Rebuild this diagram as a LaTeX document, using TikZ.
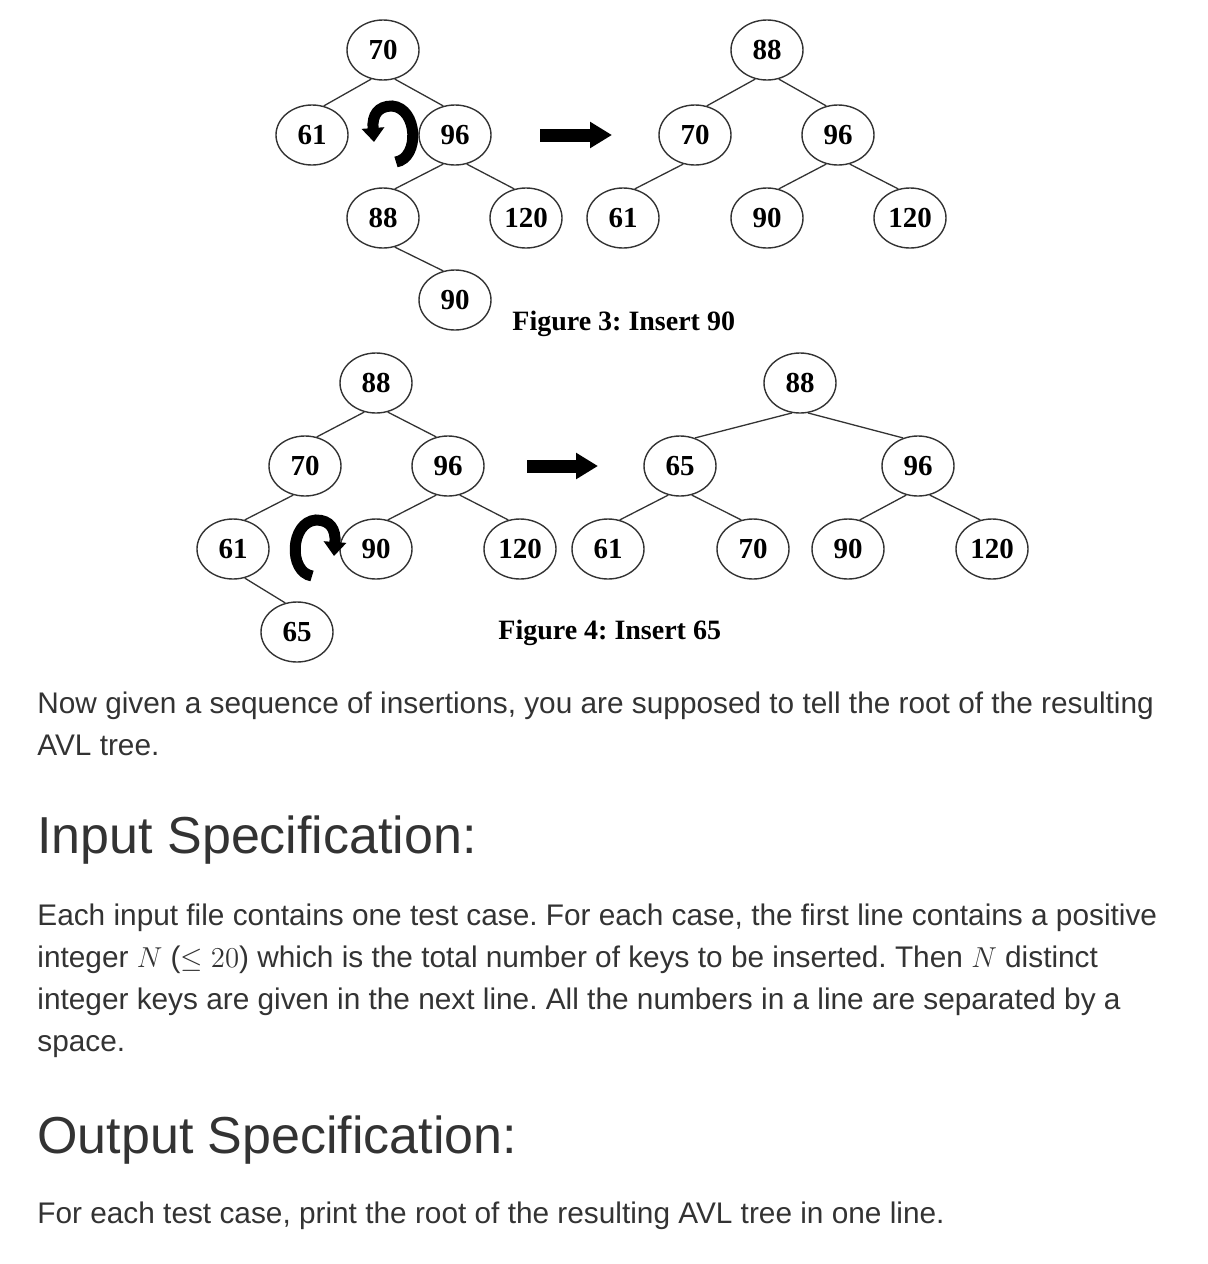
\documentclass[tikz,border=0pt]{standalone}
\usepackage{fontspec}
\setmainfont{Liberation Sans}
\newfontfamily\treefont{Liberation Serif}
\usetikzlibrary{shapes.geometric,arrows.meta}
\definecolor{bodytext}{HTML}{333333}
\frenchspacing
\begin{document}
\begin{tikzpicture}[x=0.5pt,y=0.5pt,
    key/.style={ellipse, draw=black!80, line width=0.7pt, minimum width=36pt, minimum height=30pt, inner sep=0pt, font=\treefont\bfseries\fontsize{14.5}{15}\selectfont},
    link/.style={line width=0.65pt, draw=black!80},
    turn/.style={line width=5.5pt, -{Triangle[length=7pt,width=11pt]}},
    bigarrow/.style={line width=6.5pt, -{Triangle[length=11pt,width=12.5pt]}},
    figcap/.style={anchor=base west, inner sep=0pt, font=\treefont\bfseries\fontsize{14}{14}\selectfont},
    para/.style={anchor=base west, inner sep=0pt, text=bodytext, font=\fontsize{14.9}{15}\selectfont},
    heading/.style={anchor=base west, inner sep=0pt, text=bodytext, font=\fontsize{26}{26}\selectfont}]
    \useasboundingbox (0,0) rectangle (1208,-1264);
    % Figure 3, before
    \node [key] (fa70) at (383,-50) {70};
    \node [key] (fa61) at (312,-135) {61};
    \node [key] (fa96) at (455,-135) {96};
    \node [key] (fa88) at (383,-218) {88};
    \node [key] (fa120) at (526,-218) {120};
    \node [key] (fa90) at (455,-300) {90};
    \draw [link] (fa70.-112)--(fa61.68) (fa70.-68)--(fa96.112) (fa96.-112)--(fa88.68)
        (fa96.-68)--(fa120.112) (fa88.-68)--(fa90.112);
    % left rotation
    \draw [turn] (396,-162) .. controls (420,-158) and (418,-108) .. (392,-106)
        .. controls (378,-106) and (372,-115) .. (374,-142);
    \coordinate (go3s) at (540,-135);
    \coordinate (go3e) at (612,-135);
    \draw [bigarrow] (go3s)--(go3e);
    % Figure 3, after
    \node [key] (fb88) at (767,-50) {88};
    \node [key] (fb70) at (695,-135) {70};
    \node [key] (fb96) at (838,-135) {96};
    \node [key] (fb61) at (623,-218) {61};
    \node [key] (fb90) at (767,-218) {90};
    \node [key] (fb120) at (910,-218) {120};
    \draw [link] (fb88.-112)--(fb70.68) (fb88.-68)--(fb96.112) (fb70.-112)--(fb61.68)
        (fb96.-112)--(fb90.68) (fb96.-68)--(fb120.112);
    \node [figcap] (cap3) at (512,-330) {Figure 3: Insert 90};
    % Figure 4, before
    \node [key] (ga88) at (376,-383) {88};
    \node [key] (ga70) at (305,-466) {70};
    \node [key] (ga96) at (448,-466) {96};
    \node [key] (ga61) at (233,-549) {61};
    \node [key] (ga90) at (376,-549) {90};
    \node [key] (ga120) at (520,-549) {120};
    \node [key] (ga65) at (297,-632) {65};
    \draw [link] (ga88.-112)--(ga70.68) (ga88.-68)--(ga96.112) (ga70.-112)--(ga61.68)
        (ga96.-112)--(ga90.68) (ga96.-68)--(ga120.112) (ga61.-68)--(ga65.112);
    % right rotation
    \draw [turn] (312,-576) .. controls (288,-572) and (290,-522) .. (316,-520)
        .. controls (330,-520) and (336,-529) .. (334,-556);
    \coordinate (go4s) at (527,-466);
    \coordinate (go4e) at (598,-466);
    \draw [bigarrow] (go4s)--(go4e);
    % Figure 4, after
    \node [key] (gb88) at (800,-383) {88};
    \node [key] (gb65) at (680,-466) {65};
    \node [key] (gb96) at (918,-466) {96};
    \node [key] (gb61) at (608,-549) {61};
    \node [key] (gb70) at (753,-549) {70};
    \node [key] (gb90) at (848,-549) {90};
    \node [key] (gb120) at (992,-549) {120};
    \draw [link] (gb88.-105)--(gb65.62) (gb88.-75)--(gb96.118) (gb65.-112)--(gb61.68)
        (gb65.-68)--(gb70.112) (gb96.-112)--(gb90.68) (gb96.-68)--(gb120.112);
    \node [figcap] (cap4) at (498,-639) {Figure 4: Insert 65};
    % text below
    \node [para] (l1) at (37,-713) {Now given a sequence of insertions, you are supposed to tell the root of the resulting};
    \node [para] (l2) at (37,-755) {AVL tree.};
    \node [heading] (h1) at (37,-853) {Input Specification:};
    \node [para] (l3) at (37,-925) {Each input file contains one test case. For each case, the first line contains a positive};
    \node [para] (l4) at (37,-967) {integer $N$ ($\le 20$) which is the total number of keys to be inserted. Then $N$ distinct};
    \node [para] (l5) at (37,-1009) {integer keys are given in the next line. All the numbers in a line are separated by a};
    \node [para] (l6) at (37,-1051) {space.};
    \node [heading] (h2) at (37,-1153) {Output Specification:};
    \node [para] (l7) at (37,-1223) {For each test case, print the root of the resulting AVL tree in one line.};
\end{tikzpicture}
\end{document}
